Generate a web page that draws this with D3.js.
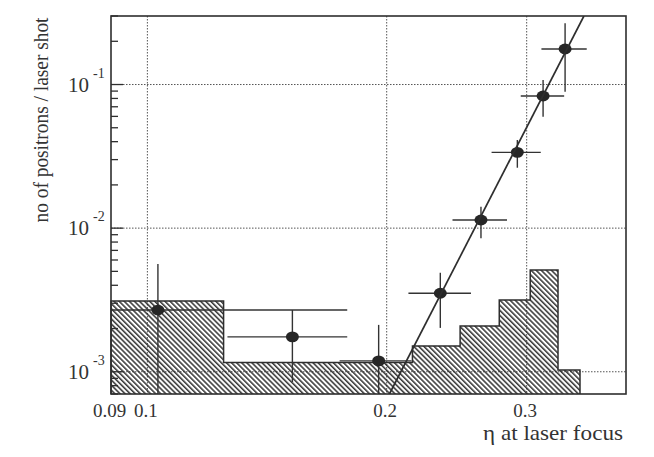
<!DOCTYPE html>
<html>
<head>
<meta charset="utf-8">
<script src="https://cdn.jsdelivr.net/npm/d3@7"></script>
<style>
  html, body { margin: 0; padding: 0; background: #ffffff; }
  svg { display: block; }
  text { font-family: "Liberation Serif", "DejaVu Serif", serif; fill: #333; }
</style>
</head>
<body>
<div id="chart"></div>
<script>
// ---------- data ----------
// measured points (eta, positrons per shot) with error extents
const ptX    = [0.1031, 0.1522, 0.1954, 0.2336, 0.2628, 0.2920, 0.3146, 0.3353];
const ptY    = [0.00269, 0.00175, 0.00119, 0.00352, 0.01139, 0.0337, 0.0832, 0.1767];
const ptXlo  = [0.0900, 0.1261, 0.1745, 0.2130, 0.2420, 0.2710, 0.2949, 0.3131];
const ptXhi  = [0.1784, 0.1784, 0.2149, 0.2553, 0.2834, 0.3125, 0.3344, 0.3570];
const ptYlo  = [0.0007, 0.000848, 0.0007, 0.00202, 0.00849, 0.02634, 0.0597, 0.0891];
const ptYhi  = [0.00562, 0.00269, 0.00212, 0.00489, 0.01409, 0.04108, 0.1075, 0.2668];

// hatched background histogram
const histEdges = [0.09, 0.1247, 0.2155, 0.2474, 0.2771, 0.3031, 0.3285, 0.3501];
const histVals  = [0.00311, 0.001159, 0.00151, 0.00208, 0.00316, 0.00511, 0.001028];

// straight-line fit (ends)
const fitX = [0.2016, 0.3541];
const fitY = [0.0007, 0.3];

// axes
const xDomain = [0.09, 0.4];
const yDomain = [0.0007, 0.3];
const xGrid = [0.1, 0.2, 0.3];
const yGrid = [1e-3, 1e-2, 1e-1];
const xTickVals = [0.09, 0.1, 0.2, 0.3];
const xTickLabels = ["0.09", "0.1", "0.2", "0.3"];
const yMajorVals = [1e-3, 1e-2, 1e-1];
const yMajorExp = ["-3", "-2", "-1"];
const xTitle = "η at laser focus";
const yTitle = "no of positrons / laser shot";

// ---------- drawing ----------
const W = 654, H = 457;
const L = 111, R = 626, T = 16, B = 394;
const ink = "#2e2e2e";

const svg = d3.select("#chart").append("svg").attr("width", W).attr("height", H);

const x = d3.scaleLog().domain(xDomain).range([L, R]);
const y = d3.scaleLog().domain(yDomain).range([B, T]);

const defs = svg.append("defs");
const pat = defs.append("pattern")
  .attr("id", "hatch").attr("patternUnits", "userSpaceOnUse")
  .attr("width", 3.6).attr("height", 3.6)
  .attr("patternTransform", "rotate(-45)");
pat.append("line").attr("x1", 0.8).attr("y1", 0).attr("x2", 0.8).attr("y2", 3.6)
  .attr("stroke", "#222").attr("stroke-width", 1.4);

defs.append("clipPath").attr("id", "plotclip").append("rect")
  .attr("x", L).attr("y", T).attr("width", R - L).attr("height", B - T);

// grid
const grid = svg.append("g").attr("stroke", "#555").attr("stroke-width", 1)
  .attr("stroke-dasharray", "1.5,1.5");
grid.selectAll("line.v").data(xGrid).join("line").attr("class", "v")
  .attr("x1", d => x(d)).attr("x2", d => x(d)).attr("y1", T).attr("y2", B);
grid.selectAll("line.h").data(yGrid).join("line").attr("class", "h")
  .attr("x1", L).attr("x2", R).attr("y1", d => y(d)).attr("y2", d => y(d));

// histogram
const bins = histVals.map((v, i) => ({x0: histEdges[i], x1: histEdges[i + 1], v}));
let p = `M${x(histEdges[0])},${B}`;
bins.forEach(b => { p += `L${x(b.x0)},${y(b.v)}L${x(b.x1)},${y(b.v)}`; });
p += `L${x(histEdges[histEdges.length - 1])},${B}`;
svg.append("path").attr("d", p + "Z").attr("fill", "url(#hatch)").attr("stroke", "none");
svg.append("path").attr("d", p).attr("fill", "none").attr("stroke", ink).attr("stroke-width", 1.5);

// error bars and points
const pts = ptX.map((v, i) => ({x: v, y: ptY[i], xl: ptXlo[i], xh: ptXhi[i], yl: ptYlo[i], yh: ptYhi[i]}));
const eg = svg.append("g").attr("clip-path", "url(#plotclip)").attr("stroke", "#333").attr("stroke-width", 1.4);
eg.selectAll("line.xe").data(pts).join("line").attr("class", "xe")
  .attr("x1", d => x(d.xl)).attr("x2", d => x(d.xh)).attr("y1", d => y(d.y)).attr("y2", d => y(d.y));
eg.selectAll("line.ye").data(pts).join("line").attr("class", "ye")
  .attr("x1", d => x(d.x)).attr("x2", d => x(d.x)).attr("y1", d => y(d.yl)).attr("y2", d => y(d.yh));
svg.append("g").selectAll("ellipse").data(pts).join("ellipse")
  .attr("cx", d => x(d.x)).attr("cy", d => y(d.y)).attr("rx", 6.5).attr("ry", 5.4)
  .attr("fill", "#262626");

// fit line
svg.append("line").attr("clip-path", "url(#plotclip)")
  .attr("x1", x(fitX[0])).attr("y1", y(fitY[0])).attr("x2", x(fitX[1])).attr("y2", y(fitY[1]))
  .attr("stroke", "#2e2e2e").attr("stroke-width", 1.7);

// frame
svg.append("rect").attr("x", L).attr("y", T).attr("width", R - L).attr("height", B - T)
  .attr("fill", "none").attr("stroke", ink).attr("stroke-width", 1.6);

// y ticks (inward)
const yAll = y.ticks().filter(d => d >= yDomain[0] && d <= yDomain[1]);
svg.append("g").selectAll("line").data(yAll).join("line")
  .attr("x1", L).attr("x2", d => L + (yMajorVals.some(m => Math.abs(m - d) / m < 1e-6) ? 12 : 7))
  .attr("y1", d => y(d)).attr("y2", d => y(d))
  .attr("stroke", ink).attr("stroke-width", 1.3);

// y labels
svg.append("g").selectAll("text").data(yMajorVals).join("text")
  .attr("x", 89).attr("y", d => y(d) + 7).attr("text-anchor", "end")
  .attr("font-size", 21).text("10");
svg.append("g").selectAll("text").data(yMajorVals).join("text")
  .attr("x", 93).attr("y", d => y(d) - 7).attr("font-size", 14)
  .text((d, i) => yMajorExp[i]);

// x labels
svg.append("g").selectAll("text").data(xTickVals).join("text")
  .attr("x", d => x(d) - 1.5).attr("y", 417).attr("text-anchor", "middle")
  .attr("font-size", 19).text((d, i) => xTickLabels[i]);

// titles
svg.append("text").attr("x", 623).attr("y", 440).attr("text-anchor", "end")
  .attr("font-size", 21).attr("textLength", 140).attr("lengthAdjust", "spacingAndGlyphs")
  .text(xTitle);
svg.append("text").attr("transform", "translate(48,120) rotate(-90)")
  .attr("text-anchor", "middle").attr("font-size", 21)
  .attr("textLength", 205).attr("lengthAdjust", "spacingAndGlyphs")
  .text(yTitle);
</script>
</body>
</html>
